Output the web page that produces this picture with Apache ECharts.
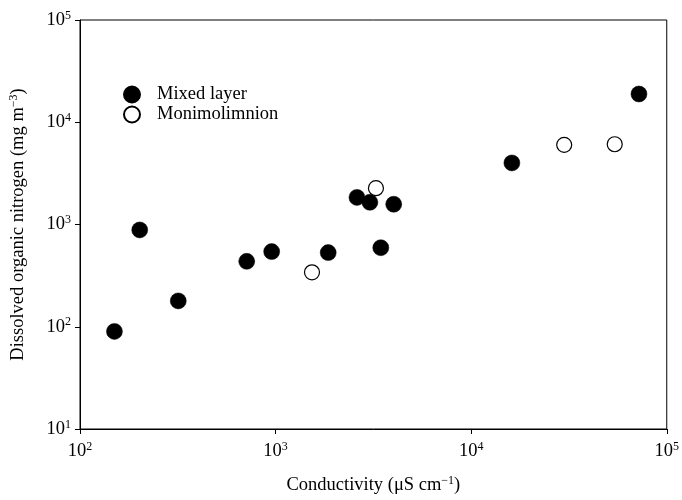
<!DOCTYPE html>
<html><head><meta charset="utf-8">
<script src="https://cdn.jsdelivr.net/npm/echarts@6/dist/echarts.min.js"></script>
<style>html,body{margin:0;padding:0;background:#fff}#c{width:682px;height:500px}</style>
</head><body><div id="c"></div>
<script>
var mixedX = [150, 202, 318, 712, 955, 1858, 2607, 3035, 3451, 4018, 16150, 72100];
var mixedY = [90, 885, 179, 436, 543, 531, 1841, 1648, 593, 1578, 4000, 18900];
var moniX = [1535, 3259, 29900, 54200];
var moniY = [341, 2265, 6010, 6095];
var xTicks = [100, 1000, 10000, 100000];
var yTicks = [10, 100, 1000, 10000, 100000];

var font = '"Liberation Serif", "DejaVu Serif", serif';
var FS = 18.5;
function pairs(xs, ys){ return xs.map(function(x,i){ return [x, ys[i]]; }); }
function pow10(v){ return '10{sup|' + Math.round(Math.log10(v)) + '}'; }
var supStyle = { fontSize: 12, fontFamily: font, color: '#000', verticalAlign: 'top', padding: [0,0,9,0] };

var chart = echarts.init(document.getElementById('c'));
chart.setOption({
  animation: false,
  backgroundColor: '#fff',
  grid: { left: 78, right: 14, top: 20, bottom: 65, show: true, borderColor: '#000', borderWidth: 1 },
  legend: {
    orient: 'vertical', left: 118, top: 80, itemWidth: 16, itemHeight: 16, itemGap: 1,
    icon: 'circle',
    textStyle: { fontFamily: font, fontSize: FS, color: '#000', padding: [0,0,0,12] },
    data: ['Mixed layer', 'Monimolimnion']
  },
  xAxis: {
    type: 'log', logBase: 10, min: xTicks[0], max: xTicks[xTicks.length-1],
    name: 'Conductivity (μS cm{sup|−1})', nameLocation: 'middle', nameGap: 46,
    nameTextStyle: { fontFamily: font, fontSize: FS, color: '#000', rich: { sup: supStyle } },
    axisLine: { lineStyle: { color: '#000', width: 1 } },
    axisTick: { show: true, inside: false, length: 5, lineStyle: { color: '#000' } },
    minorTick: { show: false },
    splitLine: { show: false },
    axisLabel: { fontFamily: font, fontSize: FS, color: '#000', margin: 12, formatter: pow10, rich: { sup: supStyle } }
  },
  yAxis: {
    type: 'log', logBase: 10, min: yTicks[0], max: yTicks[yTicks.length-1],
    name: 'Dissolved organic nitrogen (mg m{sup|−3})', nameLocation: 'middle', nameGap: 51,
    nameTextStyle: { fontFamily: font, fontSize: FS, color: '#000', rich: { sup: supStyle } },
    axisLine: { lineStyle: { color: '#000', width: 1 } },
    axisTick: { show: true, inside: false, length: 5, lineStyle: { color: '#000' } },
    splitLine: { show: false },
    axisLabel: { fontFamily: font, fontSize: FS, color: '#000', margin: 9, formatter: pow10, rich: { sup: supStyle } }
  },
  series: [
    { name: 'Mixed layer', type: 'scatter', symbol: 'circle', symbolSize: 16,
      itemStyle: { color: '#000', borderColor: '#000', borderWidth: 0.5, opacity: 1 },
      data: pairs(mixedX, mixedY) },
    { name: 'Monimolimnion', type: 'scatter', symbol: 'circle', symbolSize: 15,
      itemStyle: { color: '#fff', borderColor: '#000', borderWidth: 1.2, opacity: 1 },
      data: pairs(moniX, moniY) }
  ]
});
</script></body></html>
